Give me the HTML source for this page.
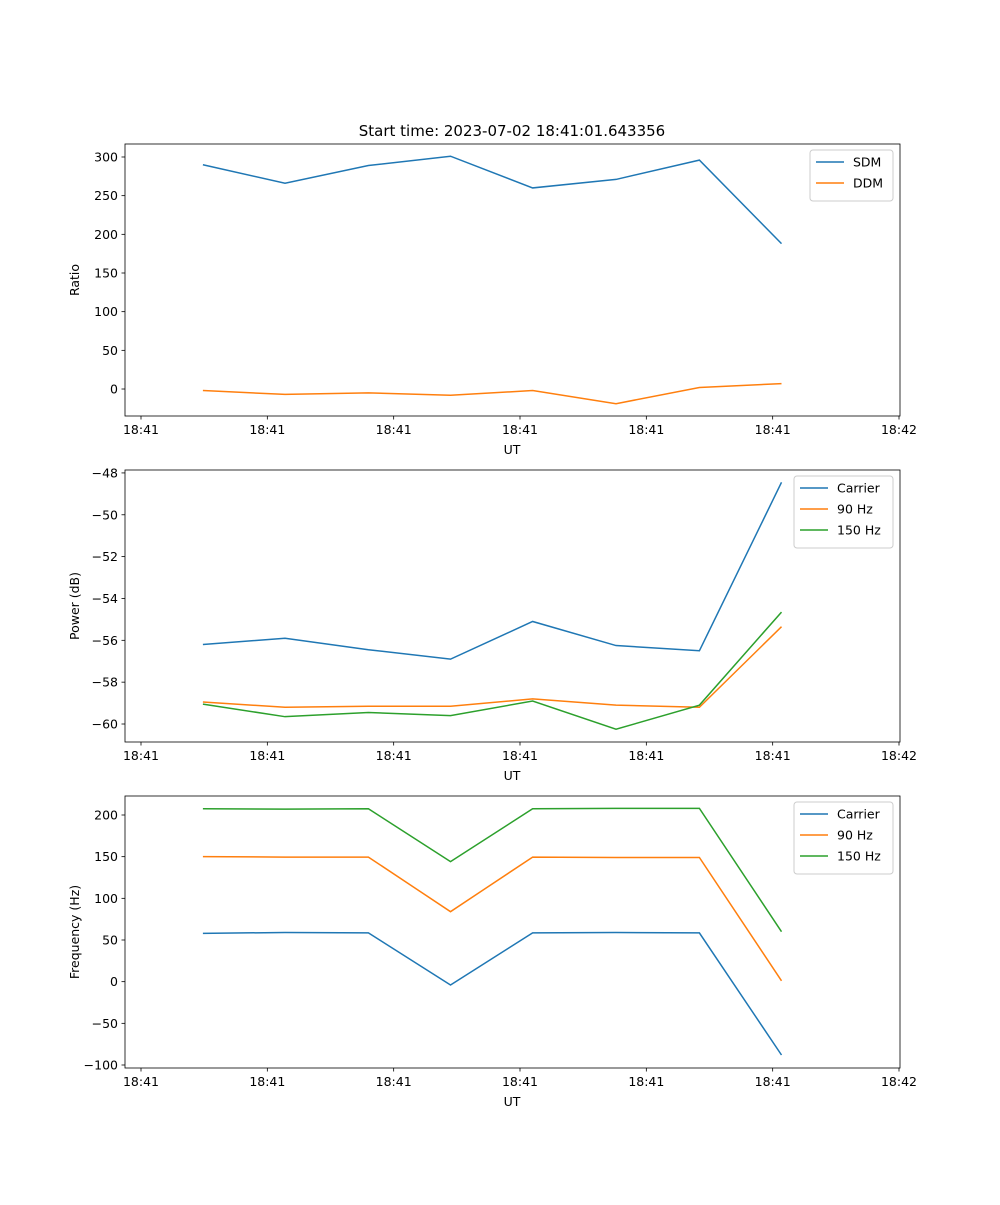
<!DOCTYPE html>
<html><head><meta charset="utf-8"><style>
body{margin:0;background:#fff}
svg text{font-family:"DejaVu Sans","Liberation Sans",sans-serif;font-size:12.5px;fill:#000}
</style></head><body>
<svg id="fig" width="1000" height="1200" xmlns="http://www.w3.org/2000/svg">
<rect width="1000" height="1200" fill="#fff"/>
<text x="512" y="136" text-anchor="middle" style="font-size:15px">Start time: 2023-07-02 18:41:01.643356</text>
</svg>
<script>
const times=[0.49,1.14,1.80,2.45,3.10,3.76,4.42,5.07];
const xTickVals=[0,1,2,3,4,5,6];
const xTickLabels=["18:41","18:41","18:41","18:41","18:41","18:41","18:42"];
const sdm=[290,266,289,301,260,271,296,188];
const ddm=[-2,-7,-5,-8,-2,-19,2,7];
const powCarrier=[-56.2,-55.9,-56.45,-56.9,-55.1,-56.25,-56.5,-48.45];
const pow90=[-58.95,-59.2,-59.15,-59.15,-58.8,-59.1,-59.2,-55.35];
const pow150=[-59.05,-59.65,-59.45,-59.6,-58.9,-60.25,-59.1,-54.65];
const freqCarrier=[58,59,58.5,-4,58.5,59,58.5,-88];
const freq90=[150,149.5,149.5,84,149.5,149,149,1];
const freq150=[207.5,207,207.5,144,207.5,208,208,60];
const ratioTicks=[0,50,100,150,200,250,300];
const powerTicks=[-60,-58,-56,-54,-52,-50,-48];
const freqTicks=[-100,-50,0,50,100,150,200];
const C=["#1f77b4","#ff7f0e","#2ca02c"];
const NS="http://www.w3.org/2000/svg";
const svg=document.getElementById('fig');
function mk(tag,attrs,parent){const e=document.createElementNS(NS,tag);for(const k in attrs)e.setAttribute(k,attrs[k]);(parent||svg).appendChild(e);return e;}
const L=125,R=900;
function xs(v){return 141+(v-0)*(899-141)/6;}
function panel(name,top,bot,yMin,yMax,yTicks,ylabel,series,names,legendX,legendW){
  const g=mk('g',{});
  
  
  const ys=v=>bot-(v-yMin)/(yMax-yMin)*(bot-top);
  series.forEach((s,i)=>{
    const p=mk('polyline',{points:s.map((v,j)=>xs(times[j])+','+ys(v)).join(' '),fill:'none',stroke:C[i],'stroke-width':1.5},g);
    
    
  });
  mk('rect',{x:L,y:top,width:R-L,height:bot-top,fill:'none',stroke:'#000','stroke-width':0.8},g);
  xTickVals.forEach((v,i)=>{
    const x=xs(v);mk('line',{x1:x,x2:x,y1:bot,y2:bot+3.5,stroke:'#000','stroke-width':0.8},g);
    const t=mk('text',{x:x,y:bot+18,'text-anchor':'middle'},g);t.textContent=xTickLabels[i];
    
    
  });
  yTicks.forEach(v=>{
    const y=ys(v);mk('line',{x1:L-3.5,x2:L,y1:y,y2:y,stroke:'#000','stroke-width':0.8},g);
    const t=mk('text',{x:L-7,y:y+4.5,'text-anchor':'end'},g);t.textContent=String(v).replace('-','\u2212');
    
    
  });
  const xl=mk('text',{x:512,y:bot+38,'text-anchor':'middle'},g);xl.textContent='UT';
  
  
  const yl=mk('text',{x:0,y:0,'text-anchor':'middle',transform:`translate(${L-46},${(top+bot)/2}) rotate(-90)`},g);yl.textContent=ylabel;
  
  
  const lg=mk('g',{},g);
  
  
  const lh=9+names.length*21;
  mk('rect',{x:legendX,y:top+6,width:legendW,height:lh,rx:3,fill:'#fff',stroke:'#ccc','stroke-width':1},lg);
  names.forEach((n,i)=>{
    const y=top+18+i*21;
    mk('line',{x1:legendX+6,x2:legendX+34,y1:y,y2:y,stroke:C[i],'stroke-width':1.5},lg);
    const t=mk('text',{x:legendX+43,y:y+4.5},lg);t.textContent=n;
    
    
  });
}
panel('ratio-panel',144,416,-34.9,316.8,ratioTicks,'Ratio',[sdm,ddm],['SDM','DDM'],810,83);
panel('power-panel',470,742,-60.86,-47.86,powerTicks,'Power (dB)',[powCarrier,pow90,pow150],['Carrier','90 Hz','150 Hz'],794,99);
panel('frequency-panel',796,1068,-103.6,222.8,freqTicks,'Frequency (Hz)',[freqCarrier,freq90,freq150],['Carrier','90 Hz','150 Hz'],794,99);
</script>
</body></html>
